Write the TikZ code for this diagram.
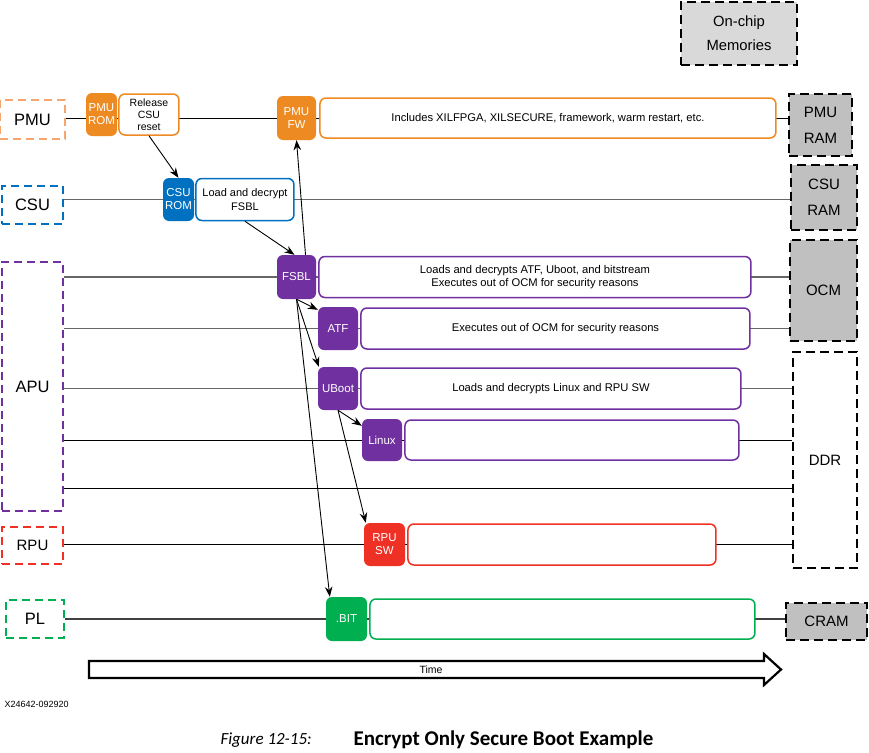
\documentclass[tikz,border=0pt]{standalone}
\usepackage{fontspec}
\setmainfont{Liberation Sans}
\newfontfamily\capfont{Carlito}
\usetikzlibrary{arrows.meta,positioning,backgrounds}
\definecolor{pmuorange}{HTML}{EE8A22}
\definecolor{pmulight}{HTML}{F4A66E}
\definecolor{csublue}{HTML}{0070C0}
\definecolor{apupurple}{HTML}{7030A0}
\definecolor{rpured}{HTML}{EE3124}
\definecolor{plgreen}{HTML}{00B050}
\definecolor{memgray}{HTML}{C0C0C0}
\definecolor{chipgray}{HTML}{D9D9D9}

\begin{document}
\begin{tikzpicture}[x=1pt,y=-1pt,>={Stealth[length=10pt,width=7.5pt]},
  lane/.style={draw,line width=1.8pt,dash pattern=on 8pt off 5pt,inner sep=0pt,font=\fontsize{16.5}{20}\selectfont},
  tag/.style={fill,rounded corners=6pt,inner sep=0pt,minimum width=40pt,minimum height=43pt,align=center,text=white,font=\fontsize{11.5}{13}\selectfont},
  desc/.style={draw,fill=white,rounded corners=6pt,line width=1.5pt,inner sep=0pt,minimum height=41pt,align=center,font=\fontsize{11.2}{13.5}\selectfont},
  mem/.style={draw,fill=memgray,line width=2.2pt,dash pattern=on 9pt off 5pt,inner sep=0pt,align=center,font=\fontsize{15}{26}\selectfont},
  link/.style={->,line width=0.9pt},
  wire/.style={line width=0.8pt}]
  \useasboundingbox (0,0) rectangle (869,752);

  \node[lane,draw=pmulight,minimum width=65pt,minimum height=39pt] (pmu) at (32.5,119.5) {PMU};
  \node[lane,draw=csublue,minimum width=61pt,minimum height=38pt] (csu) at (32.5,205) {CSU};
  \node[lane,draw=apupurple,minimum width=61pt,minimum height=249pt] (apu) at (32.5,386.5) {APU};
  \node[lane,draw=rpured,minimum width=61pt,minimum height=37pt,font=\fontsize{15}{18}\selectfont] (rpu) at (32.5,545.5) {RPU};
  \node[lane,draw=plgreen,minimum width=58pt,minimum height=38pt] (pl) at (35,619) {PL};

  \node[tag,fill=pmuorange,minimum width=31pt] (pmurom) at (101.5,114.5) {PMU\\ROM};
  \node[desc,draw=pmuorange,minimum width=60pt,font=\fontsize{10.5}{12}\selectfont] (release) [right=1pt of pmurom] {Release\\CSU\\reset};
  \node[tag,fill=pmuorange,minimum width=39pt,minimum height=44pt] (pmufw) at (296.5,118) {PMU\\FW};
  \node[desc,draw=pmuorange,minimum width=456pt,minimum height=40pt] (pmufwdesc) [right=3pt of pmufw] {Includes XILFPGA, XILSECURE, framework, warm restart, etc.};

  \node[tag,fill=csublue,minimum width=31pt] (csurom) at (178.5,199.5) {CSU\\ROM};
  \node[desc,draw=csublue,minimum width=98pt,minimum height=42pt,font=\fontsize{11}{14}\selectfont] (csudesc) [right=1pt of csurom] {Load and decrypt\\FSBL};

  \node[tag,fill=apupurple,minimum width=39pt,minimum height=44pt] (fsbl) at (296.5,277) {FSBL};
  \node[desc,draw=apupurple,minimum width=432pt] (fsbldesc) [right=2pt of fsbl] {Loads and decrypts ATF, Uboot, and bitstream\\Executes out of OCM for security reasons};
  \node[tag,fill=apupurple] (atf) at (338,328.5) {ATF};
  \node[desc,draw=apupurple,minimum width=389pt] (atfdesc) [right=2pt of atf] {Executes out of OCM for security reasons};
  \node[tag,fill=apupurple] (uboot) at (338,388.5) {UBoot};
  \node[desc,draw=apupurple,minimum width=380pt] (ubootdesc) [right=2pt of uboot] {Loads and decrypts Linux and RPU SW};
  \node[tag,fill=apupurple,minimum height=42pt] (linux) at (382,440) {Linux};
  \node[desc,draw=apupurple,minimum width=334pt,minimum height=40pt] (linuxdesc) [right=2pt of linux] {};

  \node[tag,fill=rpured,minimum width=41pt] (rpusw) at (384.5,544.5) {RPU\\SW};
  \node[desc,draw=rpured,minimum width=308pt] (rpudesc) [right=2pt of rpusw] {};
  \node[tag,fill=plgreen,minimum width=41pt,minimum height=44pt] (bit) at (346.5,619) {.BIT};
  \node[desc,draw=plgreen,minimum width=385pt,minimum height=40pt] (bitdesc) [right=2pt of bit] {};

  \node[mem,fill=chipgray,minimum width=116pt,minimum height=63pt,font=\fontsize{14.8}{24}\selectfont] (onchip) at (739,33.5) {On-chip\\Memories};
  \node[mem,minimum width=63pt,minimum height=62pt] (pmuram) at (820.5,125) {PMU\\RAM};
  \node[mem,minimum width=66pt,minimum height=65pt] (csuram) at (824,197.5) {CSU\\RAM};
  \node[mem,minimum width=67pt,minimum height=101pt] (ocm) at (823.5,290.5) {OCM};
  \node[mem,fill=white,minimum width=64pt,minimum height=216pt] (ddr) at (825,460) {DDR};
  \node[mem,minimum width=81pt,minimum height=37pt] (cram) at (826.5,621.5) {CRAM};

  \coordinate (apulow) at (63,488);

  \begin{scope}[on background layer]
    \draw[wire] (pmu.east |- pmufw) -- (pmuram.west |- pmufw);
    \draw[wire,line width=1.2pt,black!60] (csu.east |- csurom) -- (csuram.west |- csurom);
    \draw[wire,line width=1.2pt,black!60] (apu.east |- fsbl) -- (ocm.west |- fsbl);
    \draw[wire,line width=1.2pt,black!60] (apu.east |- atf) -- (ocm.west |- atf);
    \draw[wire,line width=1.2pt,black!60] (apu.east |- uboot) -- (ddr.west |- uboot);
    \draw[wire] (apu.east |- linux) -- (ddr.west |- linux);
    \draw[wire] (apulow) -- (ddr.west |- apulow);
    \draw[wire] (rpu.east |- rpusw) -- (ddr.west |- rpusw);
    \draw[wire,line width=1.1pt,black!75] (pl.east |- bit) -- (cram.west |- bit);
  \end{scope}

  \path[link]
    (release.south) edge (csurom.north)
    (csudesc.south) edge ([xshift=-2pt]fsbl.north)
    ([xshift=9pt]fsbl.north) edge (pmufw.south)
    (fsbl.south) edge ([yshift=-3pt]atf.north west)
    (fsbl.south) edge ([xshift=1pt]uboot.north west)
    (fsbl.south) edge ([xshift=4pt]bit.north west)
    (uboot.south) edge ([yshift=-7pt]linux.north west)
    (uboot.south) edge ([xshift=2pt]rpusw.north west);

  \draw[line width=2.2pt,line join=miter] (89,661) -- (764,661) -- (764,654) -- (781,669.5) -- (764,685) -- (764,678) -- (89,678) -- cycle;
  \node[font=\fontsize{10.5}{12}\selectfont] (timelabel) at (431,670) {Time};

  \node[anchor=west,font=\fontsize{9}{10}\selectfont] (figcode) at (1,704) {X24642-092920};
  \node[anchor=west,font=\capfont\fontsize{17}{20}\selectfont\itshape] (figno) at (217,740) {Figure 12-15:};
  \node[anchor=west,font=\capfont\fontsize{21}{24}\selectfont\bfseries] (figtitle) at (350,740) {Encrypt Only Secure Boot Example};
\end{tikzpicture}
\end{document}
